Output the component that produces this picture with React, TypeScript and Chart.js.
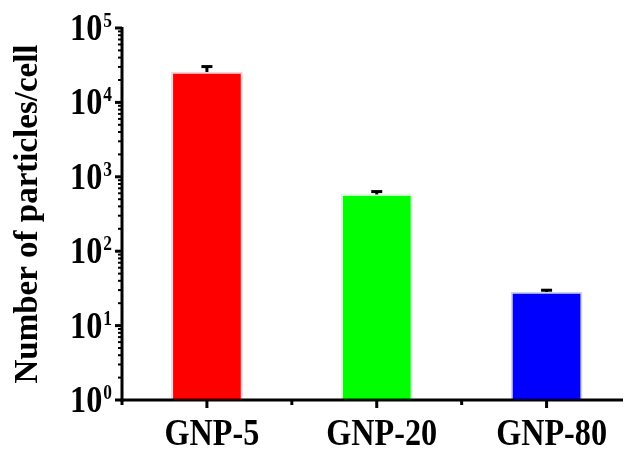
import React, { useEffect, useRef } from "react";
import { Chart, registerables } from "chart.js";

Chart.register(...registerables);

const categories = ["GNP-5", "GNP-20", "GNP-80"];
const means = [25600, 580, 28.3];
const errorTops = [30300, 633, 29.9];
const barColors = ["#ff0000", "#00ff00", "#0000ff"];
const barBorders = ["#ffd0d0", "#d0ffd0", "#d0d0ff"];
const yTickExponents = [0, 1, 2, 3, 4, 5];
const yTitle = "Number of particles/cell";

const FONT = "'Liberation Serif', 'Times New Roman', serif";
const SX = 0.87;

function drawText(
  ctx: CanvasRenderingContext2D,
  text: string,
  x: number,
  y: number,
  size: number,
  align: CanvasTextAlign
) {
  ctx.save();
  ctx.translate(x, y);
  ctx.scale(SX, 1);
  ctx.font = `bold ${size}px ${FONT}`;
  ctx.textAlign = align;
  ctx.textBaseline = "alphabetic";
  ctx.fillText(text, 0, 0);
  ctx.restore();
}

function textWidth(ctx: CanvasRenderingContext2D, text: string, size: number) {
  ctx.save();
  ctx.font = `bold ${size}px ${FONT}`;
  const w = ctx.measureText(text).width * SX;
  ctx.restore();
  return w;
}

const axesPlugin = {
  id: "customAxes",
  afterDatasetsDraw(chart: any) {
    const ctx = chart.ctx as CanvasRenderingContext2D;
    const xs = chart.scales.x;
    const ys = chart.scales.y;
    const { left, right, top, bottom } = chart.chartArea;
    ctx.save();
    ctx.strokeStyle = "#000";
    ctx.fillStyle = "#000";
    ctx.lineCap = "butt";

    // error bars
    ctx.lineWidth = 3;
    means.forEach((m, i) => {
      const px = xs.getPixelForValue(i);
      const y0 = ys.getPixelForValue(m);
      const y1 = ys.getPixelForValue(errorTops[i]);
      ctx.beginPath();
      ctx.moveTo(px, y0);
      ctx.lineTo(px, y1);
      ctx.stroke();
      ctx.beginPath();
      ctx.moveTo(px - 5.5, y1);
      ctx.lineTo(px + 5.5, y1);
      ctx.stroke();
    });

    // axis lines
    ctx.lineWidth = 3;
    ctx.beginPath();
    ctx.moveTo(left - 1.5, bottom);
    ctx.lineTo(right, bottom);
    ctx.stroke();
    ctx.beginPath();
    ctx.moveTo(left, top - 1);
    ctx.lineTo(left, bottom + 1.5);
    ctx.stroke();

    // y ticks
    yTickExponents.forEach((e) => {
      const py = ys.getPixelForValue(Math.pow(10, e));
      ctx.lineWidth = 3;
      ctx.beginPath();
      ctx.moveTo(left - 7, py);
      ctx.lineTo(left, py);
      ctx.stroke();
      if (e < yTickExponents[yTickExponents.length - 1]) {
        ctx.lineWidth = 2;
        for (let m = 2; m <= 9; m++) {
          const pm = ys.getPixelForValue(m * Math.pow(10, e));
          ctx.beginPath();
          ctx.moveTo(left - 4, pm);
          ctx.lineTo(left, pm);
          ctx.stroke();
        }
      }
      const sup = String(e);
      const supW = textWidth(ctx, sup, 20);
      drawText(ctx, sup, left - 10, py - 1, 20, "right");
      drawText(ctx, "10", left - 11 - supW, py + 12, 37, "right");
    });

    // x ticks
    categories.forEach((c, i) => {
      const px = xs.getPixelForValue(i);
      ctx.lineWidth = 3;
      ctx.beginPath();
      ctx.moveTo(px, bottom);
      ctx.lineTo(px, bottom + 8);
      ctx.stroke();
      const pm = xs.getPixelForValue(i - 0.5);
      ctx.beginPath();
      ctx.moveTo(pm, bottom);
      ctx.lineTo(pm, bottom + 5);
      ctx.stroke();
      drawText(ctx, c, px + 5, bottom + 45, 37, "center");
    });

    // y title
    ctx.save();
    ctx.translate(28, (top + bottom) / 2);
    ctx.rotate(-Math.PI / 2);
    ctx.font = `bold 33px ${FONT}`;
    ctx.textAlign = "center";
    ctx.textBaseline = "middle";
    ctx.fillText(yTitle, 0, 0);
    ctx.restore();

    ctx.restore();
  },
};

export default function App() {
  const canvasRef = useRef<HTMLCanvasElement | null>(null);

  useEffect(() => {
    if (!canvasRef.current) return;
    const chart = new Chart(canvasRef.current, {
      type: "bar",
      data: {
        datasets: [
          {
            data: means.map((m, i) => ({ x: i, y: m })),
            backgroundColor: barColors,
            borderColor: barBorders,
            borderWidth: 2,
            barThickness: 71,
          },
        ],
      },
      options: {
        responsive: false,
        animation: false,
        layout: { padding: { left: 122, right: 2, top: 28, bottom: 53 } },
        plugins: { legend: { display: false }, tooltip: { enabled: false } },
        scales: {
          x: { type: "linear", min: -0.5, max: 2.45, offset: false, display: false },
          y: { type: "logarithmic", min: 1, max: 100000, display: false },
        },
      },
      plugins: [axesPlugin],
    });
    return () => chart.destroy();
  }, []);

  return (
    <div style={{ position: "fixed", left: 0, top: 0, width: 625, height: 453, background: "#fff" }}>
      <canvas ref={canvasRef} width={625} height={453} />
    </div>
  );
}
